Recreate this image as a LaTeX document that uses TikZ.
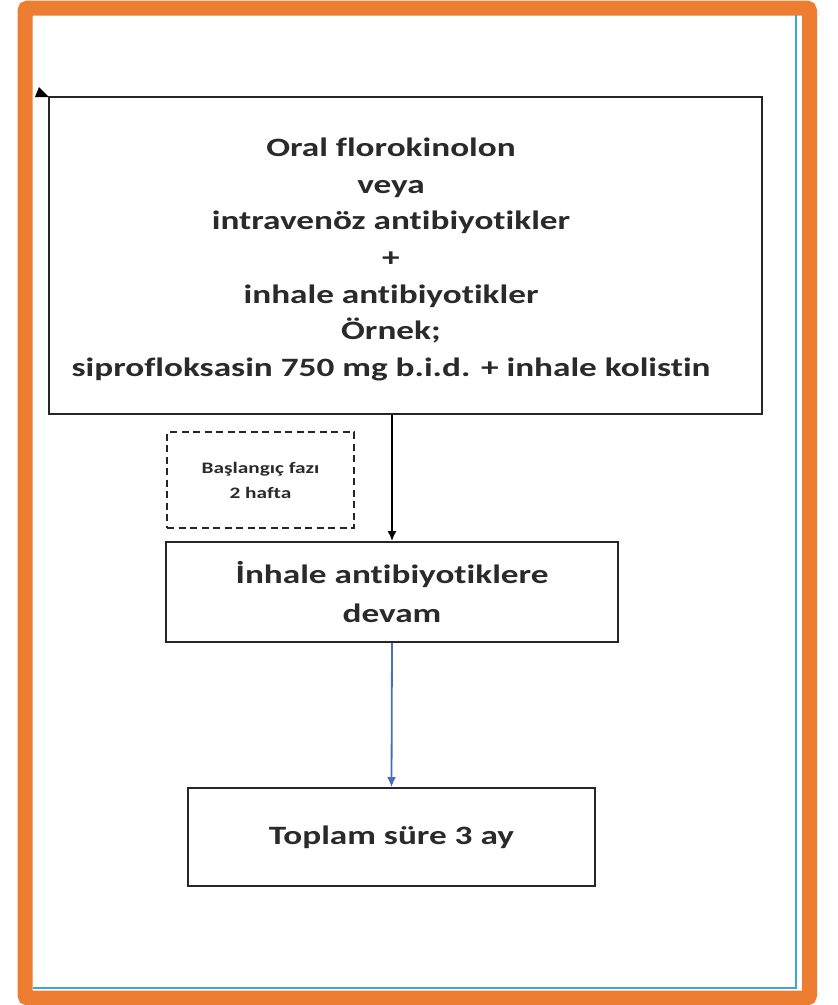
\documentclass[tikz,border=0pt]{standalone}
\usepackage{fontspec}
\usetikzlibrary{arrows.meta}
\setmainfont{Carlito}[FakeStretch=1.33, Ligatures=CommonOff]
\definecolor{frameorange}{HTML}{ED7D31}
\definecolor{edgeblue}{HTML}{3DA5D9}
\definecolor{arrowblue}{HTML}{4A6EB5}
\definecolor{txtgray}{HTML}{2A2A2A}
\tikzstyle{stepbox}=[draw=black!85, line width=1.8pt, inner sep=0pt, text=txtgray, font=\bfseries\fontsize{26.5}{39}\selectfont, align=center]
\tikzstyle{phasebox}=[draw=black!85, line width=1.6pt, dash pattern=on 7pt off 4.5pt, inner sep=0pt, text=txtgray, font=\bfseries\fontsize{16}{25}\selectfont, align=center]
\tikzstyle{bigtext}=[text=txtgray, font=\bfseries\fontsize{26.5}{36.6}\selectfont, align=center]
\tikzstyle{flow}=[line width=1.8pt, -{Latex[length=10pt,width=9pt]}]

\begin{document}
\begin{tikzpicture}[x=1pt, y=-1pt]
				\useasboundingbox (0,0) rectangle (838,1005);
				\fill[white] (0,0) rectangle (838,1005);
				\draw[frameorange, line width=15pt, rounded corners=3pt] (25,8) rectangle (809.5,998);
				\draw[edgeblue, line width=2pt] (796,15) -- (796,988) -- (33,988);
				\fill[black] (35,97) -- (39,87) -- (49,97) -- cycle;
				\node[stepbox, minimum width=713pt, minimum height=317pt] (start) at (405.5,255.5) {};
				\node[bigtext] (starttext) at (391,259.5) {Oral florokinolon\\veya\\intravenöz antibiyotikler\\+\\inhale antibiyotikler\\Örnek;\\siprofloksasin 750 mg b.i.d. + inhale kolistin};
				\node[phasebox, minimum width=187pt, minimum height=96pt] (phase) at (260.5,480) {Başlangıç fazı\\2 hafta};
				\node[stepbox, minimum width=452pt, minimum height=100pt] (inhale) at (392,592) {İnhale antibiyotiklere\\devam};
				\node[stepbox, minimum width=407pt, minimum height=98pt] (total) at (391.5,837) {Toplam süre 3 ay};
				\draw[flow, black] (start.south -| inhale.north) -- (inhale.north);
				\draw[flow, arrowblue] (inhale.south) -- (total.north);
			\end{tikzpicture}
\end{document}
